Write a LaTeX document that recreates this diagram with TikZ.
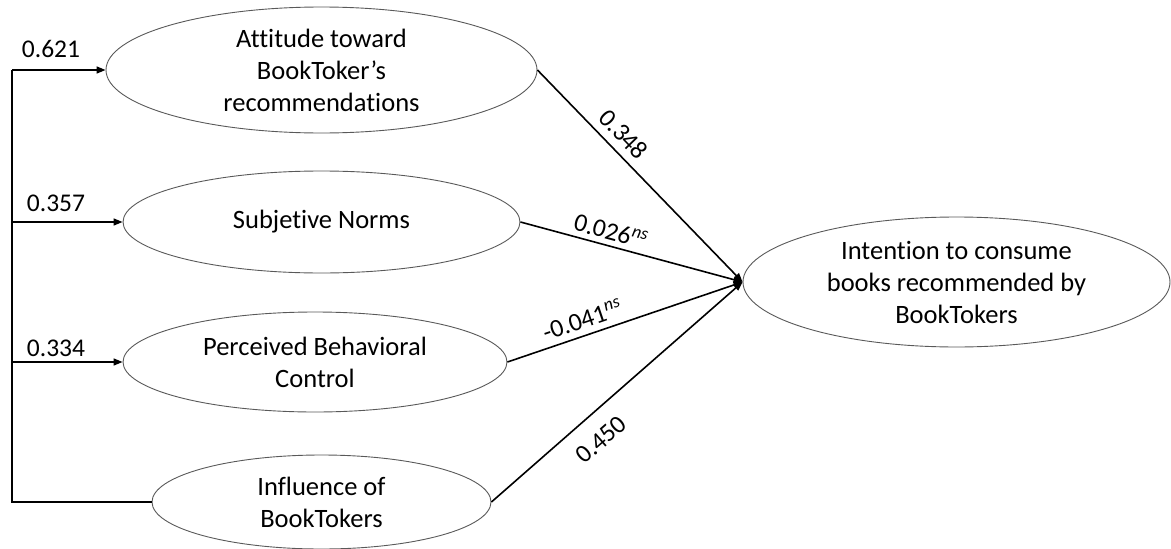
\documentclass[tikz,border=0pt]{standalone}
\usepackage{fontspec}
\setmainfont{Carlito}[Ligatures=CommonOff]
\usetikzlibrary{shapes.geometric,arrows.meta}
\begin{document}
\begin{tikzpicture}[x=1pt,y=-1pt,
  oval/.style={draw=black!65, line width=0.9pt, ellipse, inner sep=0pt},
  lbl/.style={align=center, font=\fontsize{26.5}{32}\selectfont, inner sep=0pt},
  conn/.style={line width=1.6pt, black},
  arr/.style={conn, -{Triangle[length=9pt,width=7pt]}},
  coef/.style={font=\fontsize{25.5}{30}\selectfont, inner sep=2pt}]
\useasboundingbox (0,0) rectangle (1171,549);
% ellipses
\node[oval, minimum width=431pt, minimum height=126pt] (e1) at (321.5,70) {};
\node[oval, minimum width=397pt, minimum height=102pt] (e2) at (321.5,222) {};
\node[oval, minimum width=384pt, minimum height=100pt] (e3) at (315,362) {};
\node[oval, minimum width=339pt, minimum height=94pt] (e4) at (321.5,502) {};
\node[oval, minimum width=427pt, minimum height=130pt] (e5) at (956.5,282) {};
% texts
\node[lbl] (t1) at (e1) {Attitude toward\\BookToker’s\\recommendations};
\node[lbl] (t2) at (e2) {Subjetive Norms};
\node[lbl] (t3) at (e3) {Perceived Behavioral\\Control};
\node[lbl] (t4) at (e4) {Influence of\\BookTokers};
\node[lbl] (t5) at (e5) {Intention to consume\\books recommended by\\BookTokers};
% left bracket
\coordinate (top) at (12,70);
\draw[conn] (e4.west) -| (top);
\draw[arr] (top) -- (e1.west);
\draw[arr] (top |- e2.west) -- (e2.west);
\draw[arr] (top |- e3.west) -- (e3.west);
\node[coef] (c1) at (51,49) {0.621};
\node[coef] (c2) at (56,203) {0.357};
\node[coef] (c3) at (56,348) {0.334};
% paths to intention
\draw[arr] (e1.east) -- node[coef, pos=0.36, sloped, above=6pt] (l1) {0.348} (e5.west);
\draw[arr] (e2.east) -- node[coef, pos=0.39, sloped, above=3pt] (l2) {0.026\textsuperscript{\itshape ns}} (e5.west);
\draw[arr] (e3.east) -- node[coef, pos=0.34, sloped, above=4pt] (l3) {-0.041\textsuperscript{\itshape ns}} (e5.west);
\draw[arr] (e4.east) -- node[coef, pos=0.37, sloped, below=14pt] (l4) {0.450} (e5.west);
\end{tikzpicture}
\end{document}
